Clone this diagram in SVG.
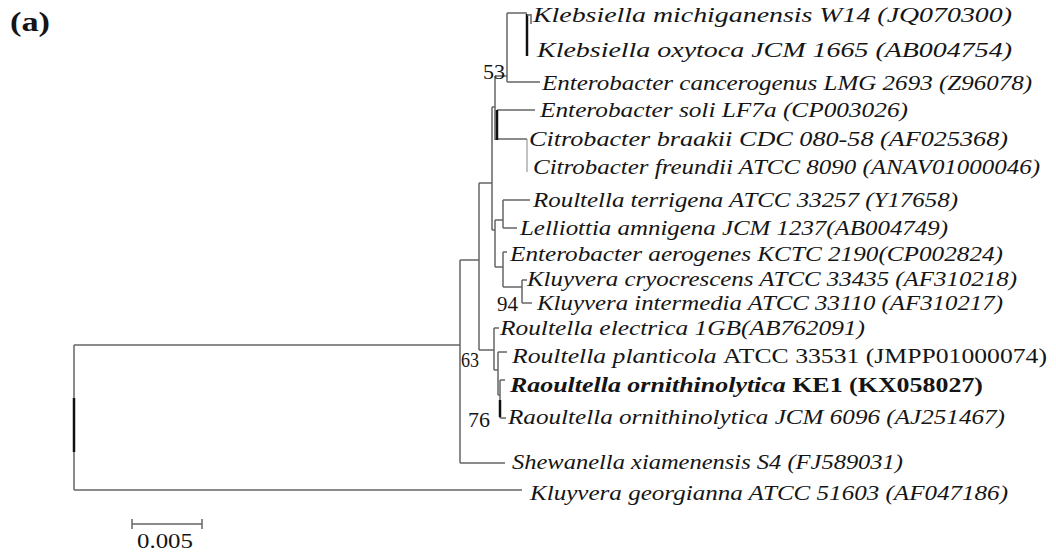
<svg xmlns="http://www.w3.org/2000/svg" width="1056" height="553" viewBox="0 0 1056 553" font-family="'Liberation Serif', 'Times New Roman', Times, serif">
<style>
.br{fill:none;stroke:#666;stroke-width:1.5}
.tk{fill:none;stroke:#111;stroke-width:2.5}
.lt{fill:none;stroke:#999;stroke-width:1.2}
text{font-family:'Liberation Serif','Times New Roman',Times,serif;font-size:22px;fill:#151515}
.it{font-style:italic}
.b{font-weight:bold}
.up{font-style:normal}
</style>
<rect width="1056" height="553" fill="#fff"/>
<g id="connectors">
<path class="br" d="M74,345V490M74,345H460M74,490H522"/>
<path class="tk" d="M74,398V452"/>
<path class="br" d="M460,260V463M460,260H479M460,463H505"/>
<path class="br" d="M479,183V350M479,183H492M479,350H494"/>
<path class="br" d="M492,107V230M492,107H495M492,230H495"/>
<path class="br" d="M495,76V140M495,76H507M495,139H527M497,110H535"/>
<path class="tk" d="M497,110V140"/>
<path class="br" d="M507,13V82M507,13H527M507,82H540"/>
<path class="tk" d="M527,14V56"/>
<path class="br" d="M527,15H531M531,14V24"/>
<path class="lt" d="M527,139V172"/>
<path class="br" d="M495,220V267M495,220H503M495,267H503"/>
<path class="br" d="M503,200V228M503,200H530M503,228H517"/>
<path class="br" d="M503,252V287M503,252H507M503,287H522"/>
<path class="br" d="M522,280V303M522,280H527M522,303H532"/>
<path class="br" d="M494,328V370M494,328H499M494,370H498"/>
<path class="br" d="M498,352V395M498,352H507M498,395H500"/>
<path class="br" d="M500,380V418M500,380H505M500,418H506"/>
<path class="tk" d="M500,400V417"/>
</g>
<g id="scale-bar">
<path class="br" d="M132,524H202M132,519V529M202,519V529"/>
<text x="137" y="548" textLength="56" lengthAdjust="spacingAndGlyphs">0.005</text>
</g>
<g id="panel-label"><text class="b" x="10" y="31" textLength="40" lengthAdjust="spacingAndGlyphs" style="font-size:27px">(a)</text></g>
<g id="bootstrap">
<text x="483" y="79" textLength="22" lengthAdjust="spacingAndGlyphs">53</text>
<text x="497" y="311" textLength="21" lengthAdjust="spacingAndGlyphs">94</text>
<text x="461" y="367" textLength="18" lengthAdjust="spacingAndGlyphs">63</text>
<text x="468" y="427" textLength="22" lengthAdjust="spacingAndGlyphs">76</text>
</g>
<g id="leaf-k-michiganensis"><text class="it" x="533" y="22" textLength="479" lengthAdjust="spacingAndGlyphs">Klebsiella michiganensis W14 (JQ070300)</text></g>
<g id="leaf-k-oxytoca"><text class="it" x="537" y="57" textLength="475" lengthAdjust="spacingAndGlyphs">Klebsiella oxytoca JCM 1665 (AB004754)</text></g>
<g id="leaf-e-cancerogenus"><text class="it" x="542" y="90" textLength="490" lengthAdjust="spacingAndGlyphs">Enterobacter cancerogenus LMG 2693 (Z96078)</text></g>
<g id="leaf-e-soli"><text class="it" x="540" y="117" textLength="368" lengthAdjust="spacingAndGlyphs">Enterobacter soli LF7a (CP003026)</text></g>
<g id="leaf-c-braakii"><text class="it" x="529" y="146" textLength="479" lengthAdjust="spacingAndGlyphs">Citrobacter braakii CDC 080-58 (AF025368)</text></g>
<g id="leaf-c-freundii"><text class="it" x="533" y="174" textLength="507" lengthAdjust="spacingAndGlyphs">Citrobacter freundii ATCC 8090 (ANAV01000046)</text></g>
<g id="leaf-r-terrigena"><text class="it" x="533" y="207" textLength="425" lengthAdjust="spacingAndGlyphs">Roultella terrigena ATCC 33257 (Y17658)</text></g>
<g id="leaf-l-amnigena"><text class="it" x="520" y="235" textLength="428" lengthAdjust="spacingAndGlyphs">Lelliottia amnigena JCM 1237(AB004749)</text></g>
<g id="leaf-e-aerogenes"><text class="it" x="510" y="261" textLength="493" lengthAdjust="spacingAndGlyphs">Enterobacter aerogenes KCTC 2190(CP002824)</text></g>
<g id="leaf-k-cryocrescens"><text class="it" x="527" y="286" textLength="490" lengthAdjust="spacingAndGlyphs">Kluyvera cryocrescens ATCC 33435 (AF310218)</text></g>
<g id="leaf-k-intermedia"><text class="it" x="537" y="310" textLength="466" lengthAdjust="spacingAndGlyphs">Kluyvera intermedia ATCC 33110 (AF310217)</text></g>
<g id="leaf-r-electrica"><text class="it" x="500" y="335" textLength="365" lengthAdjust="spacingAndGlyphs">Roultella electrica 1GB(AB762091)</text></g>
<g id="leaf-r-planticola"><text x="512" y="363" textLength="535" lengthAdjust="spacingAndGlyphs"><tspan class="it">Roultella planticola </tspan><tspan class="up">ATCC 33531 (JMPP01000074)</tspan></text></g>
<g id="leaf-r-ornithinolytica-ke1"><text class="b" x="510" y="392" textLength="473" lengthAdjust="spacingAndGlyphs"><tspan class="it">Raoultella ornithinolytica </tspan><tspan class="up">KE1 (KX058027)</tspan></text></g>
<g id="leaf-r-ornithinolytica-jcm"><text class="it" x="508" y="424" textLength="497" lengthAdjust="spacingAndGlyphs">Raoultella ornithinolytica JCM 6096 (AJ251467)</text></g>
<g id="leaf-s-xiamenensis"><text class="it" x="512" y="469" textLength="391" lengthAdjust="spacingAndGlyphs">Shewanella xiamenensis S4 (FJ589031)</text></g>
<g id="leaf-k-georgianna"><text class="it" x="530" y="500" textLength="478" lengthAdjust="spacingAndGlyphs">Kluyvera georgianna ATCC 51603 (AF047186)</text></g>
</svg>
